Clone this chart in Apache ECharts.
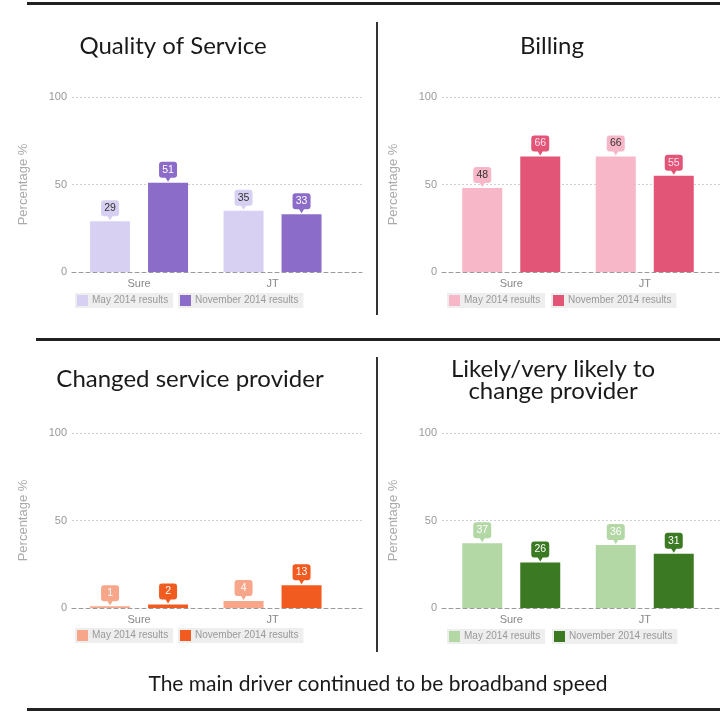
<!DOCTYPE html>
<html>
<head>
<meta charset="UTF-8">
<title>Broadband survey results</title>
<script type="text/javascript" src="https://cdn.jsdelivr.net/npm/echarts@6/dist/echarts.min.js"></script>
<style>
  html, body { margin: 0; padding: 0; background: #fff; }
  #main { width: 720px; height: 717px; }
</style>
</head>
<body>
<div id="main"></div>
<script type="text/javascript">
// data
var categories = ['Sure', 'JT'];
var seriesNames = ['May 2014 results', 'November 2014 results'];
var qualityMay = [29, 35];
var qualityNov = [51, 33];
var billingMay = [48, 66];
var billingNov = [66, 55];
var changedMay = [1, 4];
var changedNov = [2, 13];
var likelyMay = [37, 36];
var likelyNov = [26, 31];
var yMin = 0, yMax = 100, yStep = 50;

var axisFont = 'Liberation Sans';
var titleFont = 'Lato';

// one entry per panel (layout + colours)
var panels = [
  { title: 'Quality of Service', may: qualityMay, nov: qualityNov,
    colors: ['#d8d0f2', '#8b6cc8'], text: ['#333', '#fff'],
    left: 72, barLeft: 72.3, top: 97, legendTop: 293, legendLeft: [75, 178], tx: 173, ty: 46 },
  { title: 'Billing', may: billingMay, nov: billingNov,
    colors: ['#f8b7c8', '#e25577'], text: ['#333', '#fde'],
    left: 442, barLeft: 444.5, top: 97, legendTop: 293, legendLeft: [447, 551], tx: 552, ty: 46 },
  { title: 'Changed service provider', may: changedMay, nov: changedNov,
    colors: ['#f7a68a', '#f25b1f'], text: ['#fff', '#fff'],
    left: 72, barLeft: 72.3, top: 433, legendTop: 628, legendLeft: [75, 178], tx: 190, ty: 379 },
  { title: 'Likely/very likely to\nchange provider', may: likelyMay, nov: likelyNov,
    colors: ['#b3d8a6', '#3b7a23'], text: ['#fff', '#fff'],
    left: 442, barLeft: 444.5, top: 433, legendTop: 629, legendLeft: [447, 552], tx: 553, ty: 380 }
];

// speech bubble used for the value labels
var bubble = 'path://M3,0L15,0Q18,0 18,3L18,13Q18,16 15,16L11.5,16L9,20L6.5,16L3,16Q0,16 0,13L0,3Q0,0 3,0Z';

var grid = [], xAxis = [], yAxis = [], series = [], legend = [], graphic = [];

panels.forEach(function (p, i) {
  var back = 2 * i, front = 2 * i + 1;
  // back grid only draws the guide lines (a bit wider than the bars)
  grid.push({ left: p.left, top: p.top, width: 290, height: 175 });
  grid.push({ left: p.barLeft, top: p.top, width: 267, height: 175 });

  xAxis.push({
    gridIndex: back, type: 'category', data: categories,
    axisLine: { lineStyle: { color: '#9a9a9a', type: [4, 3] } },
    axisTick: { show: false }, axisLabel: { show: false }
  });
  xAxis.push({
    gridIndex: front, type: 'category', data: categories,
    axisLine: { show: false }, axisTick: { show: false },
    axisLabel: { color: '#888', fontSize: 11, margin: 6, fontFamily: axisFont }
  });
  yAxis.push({
    gridIndex: back, type: 'value', min: yMin, max: yMax, interval: yStep,
    name: 'Percentage %', nameLocation: 'middle', nameGap: 42,
    nameTextStyle: { color: '#aaa', fontSize: 13, fontFamily: axisFont },
    axisLine: { show: false }, axisTick: { show: false },
    axisLabel: { color: '#999', fontSize: 11, margin: 5, fontFamily: axisFont },
    splitLine: { lineStyle: { color: ['rgba(0,0,0,0)', '#cfcfcf', '#cfcfcf'], type: [2, 2] } }
  });
  yAxis.push({ gridIndex: front, type: 'value', min: yMin, max: yMax, show: false, splitLine: { show: false } });

  [p.may, p.nov].forEach(function (vals, k) {
    series.push({
      type: 'bar', name: seriesNames[k],
      xAxisIndex: front, yAxisIndex: front,
      data: vals, barWidth: 40, barGap: '45%',
      itemStyle: { color: p.colors[k] },
      markPoint: {
        symbol: bubble, symbolSize: [18, 20], symbolOffset: [0, -11],
        itemStyle: { color: p.colors[k] },
        label: { color: p.text[k], fontSize: 10.5, offset: [0, -2], fontFamily: axisFont },
        data: vals.map(function (v, j) { return { coord: [j, v], value: v }; })
      }
    });
    legend.push({
      left: p.legendLeft[k], top: p.legendTop,
      data: [{ name: seriesNames[k], itemStyle: { color: p.colors[k] } }],
      selectedMode: false, icon: 'rect', itemWidth: 11, itemHeight: 11,
      padding: [2, 5, 2, 2], backgroundColor: '#eeeeee',
      textStyle: { color: '#999', fontSize: 10, fontFamily: axisFont, padding: [0, 0, 0, -1] }
    });
  });

  graphic.push({
    type: 'text', x: p.tx, y: p.ty,
    style: { text: p.title, fontSize: 24, fontFamily: titleFont, lineHeight: 22,
      align: 'center', verticalAlign: 'middle', fill: '#1a1a1a' }
  });
});

// frame lines
graphic.push(
  { type: 'line', shape: { x1: 27, y1: 3.5, x2: 720, y2: 3.5 }, style: { stroke: '#222', lineWidth: 3 } },
  { type: 'line', shape: { x1: 36, y1: 339.5, x2: 720, y2: 339.5 }, style: { stroke: '#222', lineWidth: 3 } },
  { type: 'line', shape: { x1: 27, y1: 709.5, x2: 720, y2: 709.5 }, style: { stroke: '#222', lineWidth: 3 } },
  { type: 'line', shape: { x1: 377, y1: 22, x2: 377, y2: 315 }, style: { stroke: '#333', lineWidth: 2 } },
  { type: 'line', shape: { x1: 377, y1: 357, x2: 377, y2: 652 }, style: { stroke: '#333', lineWidth: 2 } },
  { type: 'text', x: 378, y: 684,
    style: { text: 'The main driver continued to be broadband speed', fontSize: 21,
      fontFamily: titleFont, align: 'center', verticalAlign: 'middle', fill: '#1a1a1a' } }
);

var myChart = echarts.init(document.getElementById('main'));
myChart.setOption({
  animation: false,
  backgroundColor: '#fff',
  grid: grid,
  xAxis: xAxis,
  yAxis: yAxis,
  legend: legend,
  series: series,
  graphic: graphic
});
</script>
</body>
</html>
